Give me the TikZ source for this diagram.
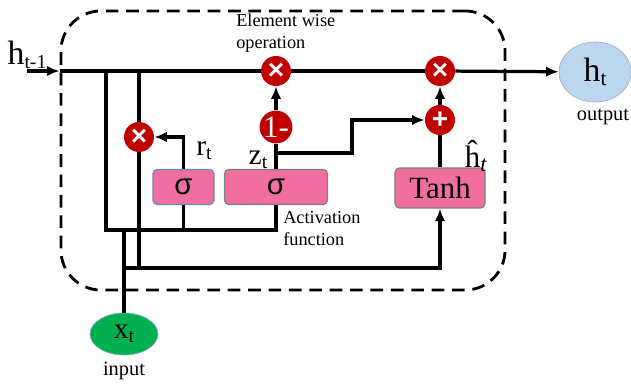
\documentclass[tikz,border=0pt]{standalone}
\usepackage{fontspec}
\setmainfont{Liberation Serif}
\newfontfamily\sigmafont{Liberation Sans}
\usetikzlibrary{arrows.meta,positioning,shapes.geometric}
\definecolor{gatepink}{HTML}{F06EA0}
\definecolor{opred}{HTML}{C00000}
\definecolor{inputgreen}{HTML}{00B050}
\definecolor{outblue}{HTML}{BDD7EE}
\definecolor{outedge}{HTML}{8EA9C8}
\definecolor{sigedge}{HTML}{5B8FC8}
\definecolor{boxgray}{HTML}{7F7F7F}
\newcommand{\lowidx}[2]{\raisebox{-0.14em}{\fontsize{#1}{#1}\selectfont #2}}

\begin{document}
\begin{tikzpicture}[x=0.025cm, y=-0.025cm,
  wire/.style={line width=2.3pt},
  arr/.style={wire, -{Latex[length=9pt,width=7.5pt]}},
  op/.style={circle, fill=opred, text=white, minimum size=0.75cm, inner sep=0pt, font=\sigmafont\bfseries\fontsize{20}{20}\selectfont},
  gate/.style={draw=boxgray, fill=gatepink, rounded corners=3pt, line width=0.8pt, minimum height=0.875cm, font=\fontsize{22}{24}\selectfont},
  note/.style={inner sep=0pt, align=left, font=\fontsize{13}{15.6}\selectfont},
  sym/.style={inner sep=0pt, font=\fontsize{24}{26}\selectfont}]
\useasboundingbox (0,0) rectangle (631,386);

% cell frame
\node[draw, line width=2pt, dash pattern=on 9pt off 5.5pt, rounded corners=1cm, minimum width=11.1cm, minimum height=6.975cm] (cell) at (283,150.5) {};

% element wise operations
\node[op] (mulz) at (276,71) {×};
\node[op] (mulo) at (440,71) {×};
\node[op] (plus) at (440,120) {+};
\node[op, font=\fontsize{22}{22}\selectfont] (oneminus) at (276,127) {1-};
\node[op] (mulr) at (139,137) {×};

% activation functions
\node[gate, draw=sigedge, minimum width=1.525cm, font=\sigmafont\fontsize{21}{22}\selectfont] (sigr) at (183.5,187) {σ};
\node[gate, minimum width=2.575cm, font=\sigmafont\fontsize{21}{22}\selectfont] (sigz) at (276,187) {σ};
\node[gate, minimum width=2.25cm, minimum height=1cm] (tanh) at (440,188) {Tanh};

% input and output
\node[ellipse, draw=outedge, fill=inputgreen, minimum width=1.7cm, minimum height=1.05cm, inner sep=0pt, font=\fontsize{21}{22}\selectfont] (xin) at (124,334) {x\lowidx{14}{t}};
\node[ellipse, draw=outedge, fill=outblue, minimum width=1.8cm, minimum height=1.5cm, inner sep=0pt, font=\fontsize{24}{26}\selectfont] (hout) at (595,72) {h\lowidx{15}{t}};

% labels
\node[sym] (hprev) at (27,55) {h\lowidx{14}{t-1}};
\node[note, anchor=west] (opnote) at (236,33) {Element wise\\operation};
\node[note, anchor=west] (actnote) at (283,229) {Activation\\function};
\node[sym, font=\fontsize{21}{22}\selectfont] (rlbl) at (204,151) {r\lowidx{14}{t}};
\node[sym, font=\fontsize{21}{22}\selectfont] (zlbl) at (258,160) {z\lowidx{14}{t}};
\node[sym, font=\fontsize{22}{24}\selectfont] (hhat) at (476,156) {\^{h}\lowidx{16}{\textit{t}}};
\node[note, font=\fontsize{14.5}{16}\selectfont] (inlbl) at (124,371) {input};
\node[note, font=\fontsize{14.5}{16}\selectfont] (outlbl) at (603,117) {output};

% junction points
\coordinate (hin) at (27,71);
\coordinate (tip) at (cell.west |- hin);
\coordinate (ja) at (106,71);
\coordinate (jb) at (139,71);
\coordinate (upbus) at (0,230);
\coordinate (lowbus) at (0,268);
\coordinate (zb) at (276,153);
\coordinate (zk) at (352,137);

% connectors
\draw[arr] (hin) -- (tip);
\draw[wire] (tip) -- (mulz);
\draw[wire] (mulz) -- (mulo);
\draw[arr] (mulo) -- (hout);
\draw[wire] (ja) -- (ja |- upbus) -| (sigz.south);
\draw[wire] (sigr.south) -- (sigr.south |- upbus);
\draw[wire] (jb) -- (mulr);
\draw[wire] (mulr) -- (mulr |- lowbus);
\draw[wire] (xin) -- (xin |- upbus);
\draw[arr] (xin |- lowbus) -| (tanh.south);
\draw[arr] (sigr.north) |- (mulr);
\draw[wire] (sigz.north) -- (oneminus);
\draw[arr] (oneminus) -- (mulz);
\draw[arr] (zb) -| (zk) |- (plus);
\draw[wire] (tanh) -- (plus);
\draw[arr] (plus) -- (mulo);
\end{tikzpicture}
\end{document}
